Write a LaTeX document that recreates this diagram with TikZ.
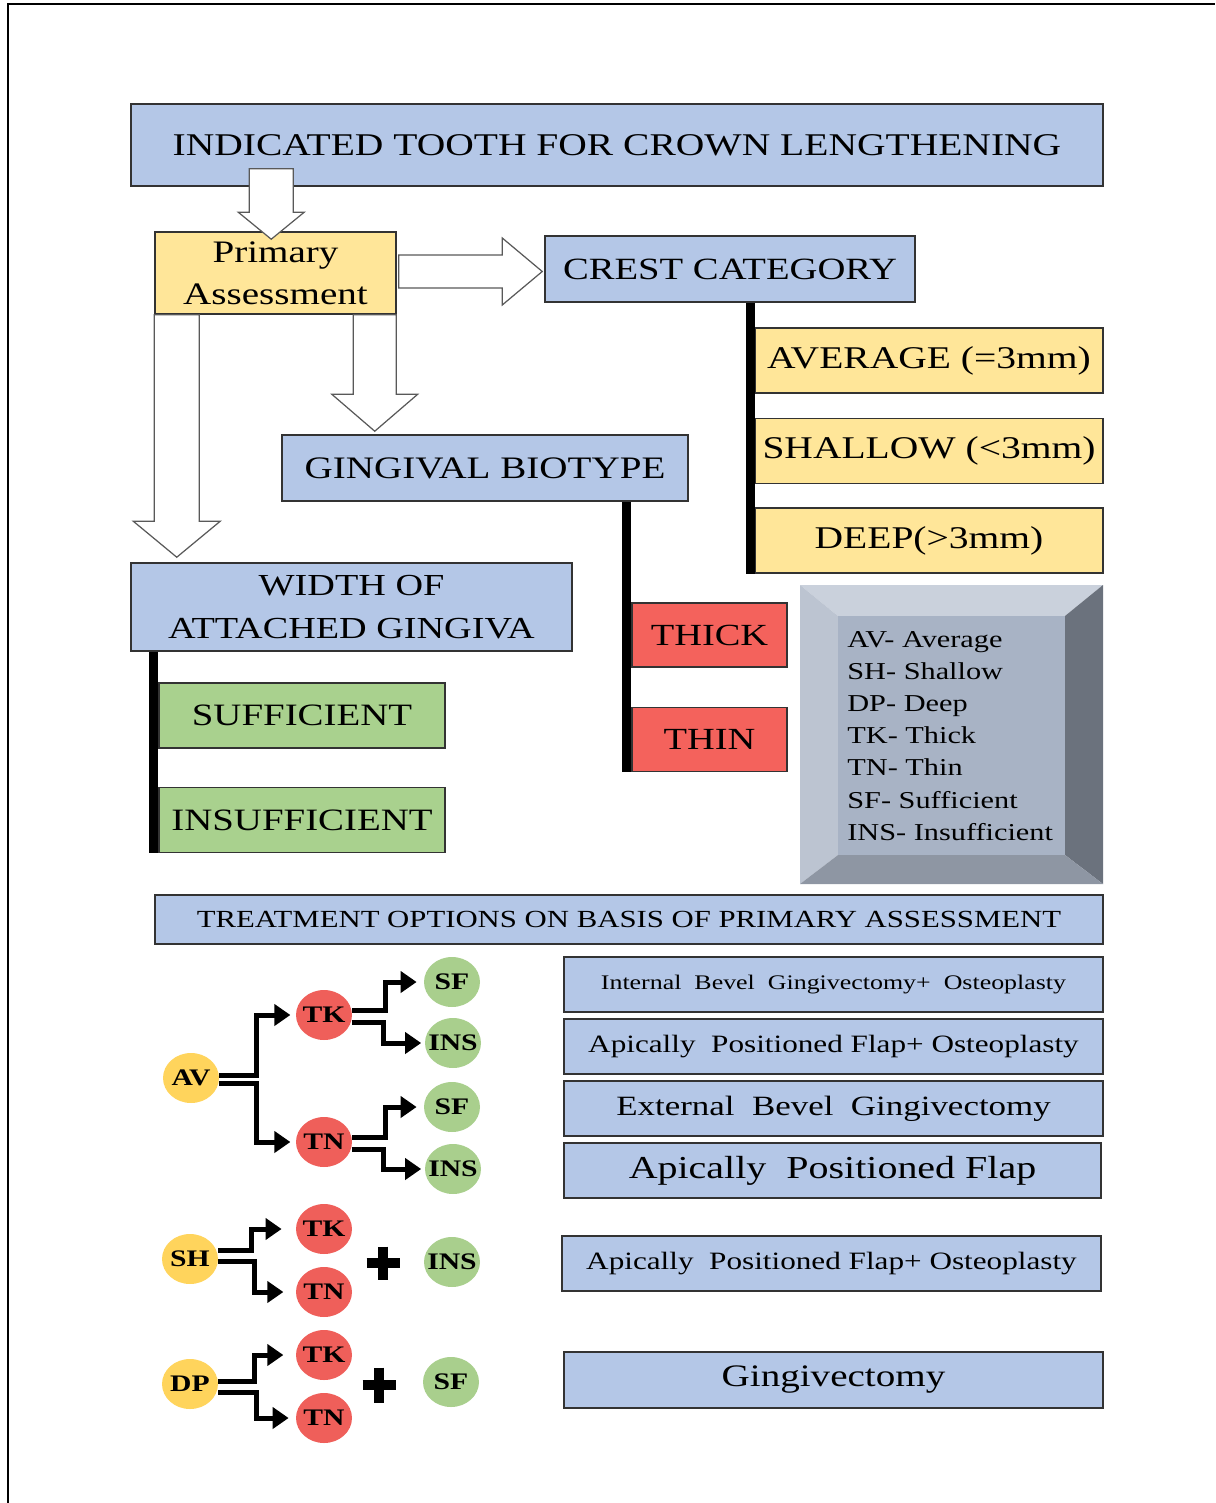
\documentclass[tikz,border=0pt]{standalone}
\usepackage{fontspec}
\setmainfont{Liberation Serif}[FakeStretch=1.25]
\usetikzlibrary{calc,arrows.meta,shapes.geometric}

\definecolor{boxblue}{HTML}{B4C7E7}
\definecolor{boxyellow}{HTML}{FFE699}
\definecolor{boxred}{HTML}{F4625C}
\definecolor{boxgreen}{HTML}{A9D18E}
\definecolor{dotyellow}{HTML}{FFD45C}
\definecolor{dotred}{HTML}{EF5F5A}
\definecolor{dotgreen}{HTML}{A9CF8D}
\definecolor{bevtop}{HTML}{CAD1DC}
\definecolor{bevleft}{HTML}{BCC4D1}
\definecolor{bevright}{HTML}{6B727D}
\definecolor{bevbottom}{HTML}{8E96A3}
\definecolor{bevface}{HTML}{A8B3C5}

\newcommand{\dottext}[1]{\makebox[0pt]{#1}}

\tikzset{
  box/.style={draw=black!80, line width=0.9pt, inner sep=0pt, align=center},
  bluebox/.style={box, fill=boxblue},
  yellowbox/.style={box, fill=boxyellow},
  redbox/.style={box, fill=boxred},
  greenbox/.style={box, fill=boxgreen},
  bar/.style={line width=0.17cm},
  hollow/.style={draw=black!65, fill=white, line width=0.7pt},
  tree/.style={line width=0.1cm, -{Triangle[length=0.32cm,width=0.42cm]}},
  dot/.style={ellipse, minimum width=1.12cm, minimum height=1cm, inner sep=0pt,
    font=\fontsize{13.5}{14}\selectfont\bfseries},
  plusmark/.style={line width=0.2cm}
}

\begin{document}
\begin{tikzpicture}[x=0.02cm, y=-0.02cm]
        \useasboundingbox (0,0) rectangle (1215,1503);
        % 枠
        \draw[line width=0.04cm] (8,1503) -- (8,4) -- (1215,4);

        % 上段の箱
        \node[bluebox, minimum width=19.44cm, minimum height=1.64cm, font=\fontsize{18}{22}\selectfont] (title) at (617,145) {INDICATED TOOTH FOR CROWN LENGTHENING};
        \node[yellowbox, minimum width=4.82cm, minimum height=1.64cm, font=\fontsize{17.8}{24}\selectfont] (pa) at (275.5,273) {Primary\\Assessment};
        \node[bluebox, minimum width=7.4cm, minimum height=1.32cm, font=\fontsize{17.6}{22}\selectfont] (crest) at (730,269) {CREST CATEGORY};
        \node[bluebox, minimum width=8.12cm, minimum height=1.32cm, font=\fontsize{17.8}{22}\selectfont] (bio) at (485,468) {GINGIVAL BIOTYPE};
        \node[bluebox, minimum width=8.82cm, minimum height=1.76cm, font=\fontsize{17.4}{24.5}\selectfont] (width) at (351.5,607) {WIDTH OF\\ATTACHED GINGIVA};

        % 骨頂の分類
        \node[yellowbox, minimum width=6.96cm, minimum height=1.3cm, font=\fontsize{18}{22}\selectfont] (avg) at (929,360.5) {AVERAGE (=3mm)};
        \node[yellowbox, minimum width=6.96cm, minimum height=1.3cm, font=\fontsize{18}{22}\selectfont] (shallow) at (929,451) {SHALLOW (<3mm)};
        \node[yellowbox, minimum width=6.96cm, minimum height=1.3cm, font=\fontsize{18}{22}\selectfont] (deep) at (929,540.5) {DEEP(>3mm)};
        \coordinate (crestbar) at ($(avg.west)+(-4,0)$);
        \draw[bar] (crestbar |- crest.south) -- (crestbar |- deep.south);

        % 歯肉のタイプ
        \node[redbox, minimum width=3.1cm, minimum height=1.28cm, font=\fontsize{17.5}{22}\selectfont] (thick) at (709.5,635) {THICK};
        \node[redbox, minimum width=3.1cm, minimum height=1.28cm, font=\fontsize{17.5}{22}\selectfont] (thin) at (709.5,739.5) {THIN};
        \coordinate (biobar) at ($(thick.west)+(-4.5,0)$);
        \draw[bar] (biobar |- bio.south) -- (biobar |- thin.south);

        % 付着歯肉の幅
        \node[greenbox, minimum width=5.72cm, minimum height=1.3cm, font=\fontsize{17.7}{22}\selectfont] (suff) at (302,715.5) {SUFFICIENT};
        \node[greenbox, minimum width=5.72cm, minimum height=1.3cm, font=\fontsize{17.7}{22}\selectfont] (insuff) at (302,820) {INSUFFICIENT};
        \coordinate (widthbar) at ($(suff.west)+(-4.5,0)$);
        \draw[bar] (widthbar |- width.south) -- (widthbar |- insuff.south);

        % 白抜き矢印 title -> pa
        \coordinate (tail) at ($(title.south west)+(141,-18)$);
        \coordinate (tip) at ($(pa.north west)+(117,8)$);
        \draw[hollow] ($(tail)+(-22,0)$) -- ($(tip)+(-22,-27)$) -- ($(tip)+(-33,-27)$) -- (tip)
          -- ($(tip)+(33,-27)$) -- ($(tip)+(22,-27)$) -- ($(tail)+(22,0)$) -- cycle;

        % 白抜き矢印 pa -> crest
        \coordinate (tail) at ($(pa.east)+(2,-1.5)$);
        \coordinate (tip) at ($(crest.west)+(-2,2.5)$);
        \draw[hollow] ($(tail)+(0,-16.5)$) -- ($(tip)+(-40,-16.5)$) -- ($(tip)+(-40,-33.5)$) -- (tip)
          -- ($(tip)+(-40,33.5)$) -- ($(tip)+(-40,16.5)$) -- ($(tail)+(0,16.5)$) -- cycle;

        % 白抜き矢印 pa -> bio
        \coordinate (tail) at ($(pa.south west)+(220.5,0)$);
        \coordinate (tip) at ($(bio.north west)+(93.5,-3)$);
        \draw[hollow] ($(tail)+(-21.5,0)$) -- ($(tip)+(-21.5,-37)$) -- ($(tip)+(-43,-37)$) -- (tip)
          -- ($(tip)+(43,-37)$) -- ($(tip)+(21.5,-37)$) -- ($(tail)+(21.5,0)$) -- cycle;

        % 白抜き矢印 pa -> width
        \coordinate (tail) at ($(pa.south west)+(22.5,0)$);
        \coordinate (tip) at ($(width.north west)+(46.5,-5)$);
        \draw[hollow] ($(tail)+(-22.5,0)$) -- ($(tip)+(-22.5,-36)$) -- ($(tip)+(-43.5,-36)$) -- (tip)
          -- ($(tip)+(43.5,-36)$) -- ($(tip)+(22.5,-36)$) -- ($(tail)+(22.5,0)$) -- cycle;

        % 凡例 (面取りの箱)
        \fill[bevtop] (800,585) -- (1103,585) -- (1065,616) -- (838,616) -- cycle;
        \fill[bevleft] (800,585) -- (838,616) -- (838,855) -- (800,884) -- cycle;
        \fill[bevright] (1103,585) -- (1103,884) -- (1065,855) -- (1065,616) -- cycle;
        \fill[bevbottom] (800,884) -- (1103,884) -- (1065,855) -- (838,855) -- cycle;
        \fill[bevface] (838,616) rectangle (1065,855);
        \node[anchor=north west, align=left, inner sep=0pt, font=\fontsize{13.8}{18.3}\selectfont] (legend) at (847,631)
          {AV- Average\\SH- Shallow\\DP- Deep\\TK- Thick\\TN- Thin\\SF- Sufficient\\INS- Insufficient};

        % 治療の選択肢
        \node[bluebox, minimum width=18.96cm, minimum height=0.98cm, font=\fontsize{14}{16}\selectfont] (treat) at (629,919.5) {TREATMENT OPTIONS ON BASIS OF PRIMARY ASSESSMENT};
        \node[bluebox, minimum width=10.78cm, minimum height=1.1cm, font=\fontsize{11.8}{14}\selectfont] (r1) at (833.5,984.5) {Internal\ \ Bevel\ \ Gingivectomy+\ \ Osteoplasty};
        \node[bluebox, minimum width=10.78cm, minimum height=1.1cm, font=\fontsize{14.2}{16}\selectfont] (r2) at (833.5,1046.5) {Apically\ \ Positioned Flap+ Osteoplasty};
        \node[bluebox, minimum width=10.78cm, minimum height=1.1cm, font=\fontsize{15.9}{18}\selectfont] (r3) at (833.5,1108.5) {External\ \ Bevel\ \ Gingivectomy};
        \node[bluebox, minimum width=10.74cm, minimum height=1.1cm, font=\fontsize{18.2}{20}\selectfont] (r4) at (832.5,1170.5) {Apically\ \ Positioned Flap};
        \node[bluebox, minimum width=10.78cm, minimum height=1.1cm, font=\fontsize{14.2}{16}\selectfont] (r5) at (831.5,1263.5) {Apically\ \ Positioned Flap+ Osteoplasty};
        \node[bluebox, minimum width=10.78cm, minimum height=1.12cm, font=\fontsize{17.8}{20}\selectfont] (r6) at (833.5,1380) {Gingivectomy};

        % AV の樹形
        \node[dot, fill=dotyellow] (av) at (191,1078) {\dottext{AV}};
        \node[dot, fill=dotred] (tk1) at (324,1015) {\dottext{TK}};
        \node[dot, fill=dotred] (tn1) at (324,1142) {\dottext{TN}};
        \node[dot, fill=dotgreen] (sf1) at (452,982) {\dottext{SF}};
        \node[dot, fill=dotgreen] (ins1) at (453,1043) {\dottext{INS}};
        \node[dot, fill=dotgreen] (sf2) at (452,1107) {\dottext{SF}};
        \node[dot, fill=dotgreen] (ins2) at (453,1169) {\dottext{INS}};
        \draw[tree, shorten >=3pt] ($(av.east)+(0,-3)$) -- ++(37,0) |- (tk1.west);
        \draw[tree, shorten >=3pt] ($(av.east)+(0,5)$) -- ++(37,0) |- (tn1.west);
        \draw[tree, shorten >=4pt] ($(tk1.east)+(0,-5)$) -- ++(33,0) |- (sf1.west);
        \draw[tree, shorten >=2pt] ($(tk1.east)+(0,7)$) -- ++(31,0) |- (ins1.west);
        \draw[tree, shorten >=4pt] ($(tn1.east)+(0,-5)$) -- ++(33,0) |- (sf2.west);
        \draw[tree, shorten >=2pt] ($(tn1.east)+(0,7)$) -- ++(31,0) |- (ins2.west);

        % SH の樹形
        \node[dot, fill=dotyellow] (sh) at (190,1259) {\dottext{SH}};
        \node[dot, fill=dotred] (tk2) at (324,1229) {\dottext{TK}};
        \node[dot, fill=dotred] (tn2) at (324,1292) {\dottext{TN}};
        \node[dot, fill=dotgreen] (ins3) at (452,1262) {\dottext{INS}};
        \draw[tree, shorten >=8pt] ($(sh.east)+(0,-9)$) -- ++(33,0) |- (tk2.west);
        \draw[tree, shorten >=7pt] ($(sh.east)+(0,2)$) -- ++(36,0) |- (tn2.west);
        \coordinate (plus1) at (383,1263);
        \draw[plusmark] ($(plus1)+(-16.5,0)$) -- ($(plus1)+(16.5,0)$) ($(plus1)+(0,-16.5)$) -- ($(plus1)+(0,16.5)$);

        % DP の樹形
        \node[dot, fill=dotyellow] (dp) at (190,1384) {\dottext{DP}};
        \node[dot, fill=dotred] (tk3) at (324,1355) {\dottext{TK}};
        \node[dot, fill=dotred] (tn3) at (324,1418) {\dottext{TN}};
        \node[dot, fill=dotgreen] (sf3) at (451,1382) {\dottext{SF}};
        \draw[tree, shorten >=7pt] ($(dp.east)+(0,-3)$) -- ++(36,0) |- (tk3.west);
        \draw[tree, shorten >=4pt] ($(dp.east)+(0,8)$) -- ++(38,0) |- (tn3.west);
        \coordinate (plus2) at (379,1385);
        \draw[plusmark] ($(plus2)+(-16.5,0)$) -- ($(plus2)+(16.5,0)$) ($(plus2)+(0,-17.5)$) -- ($(plus2)+(0,17.5)$);
\end{tikzpicture}
\end{document}
